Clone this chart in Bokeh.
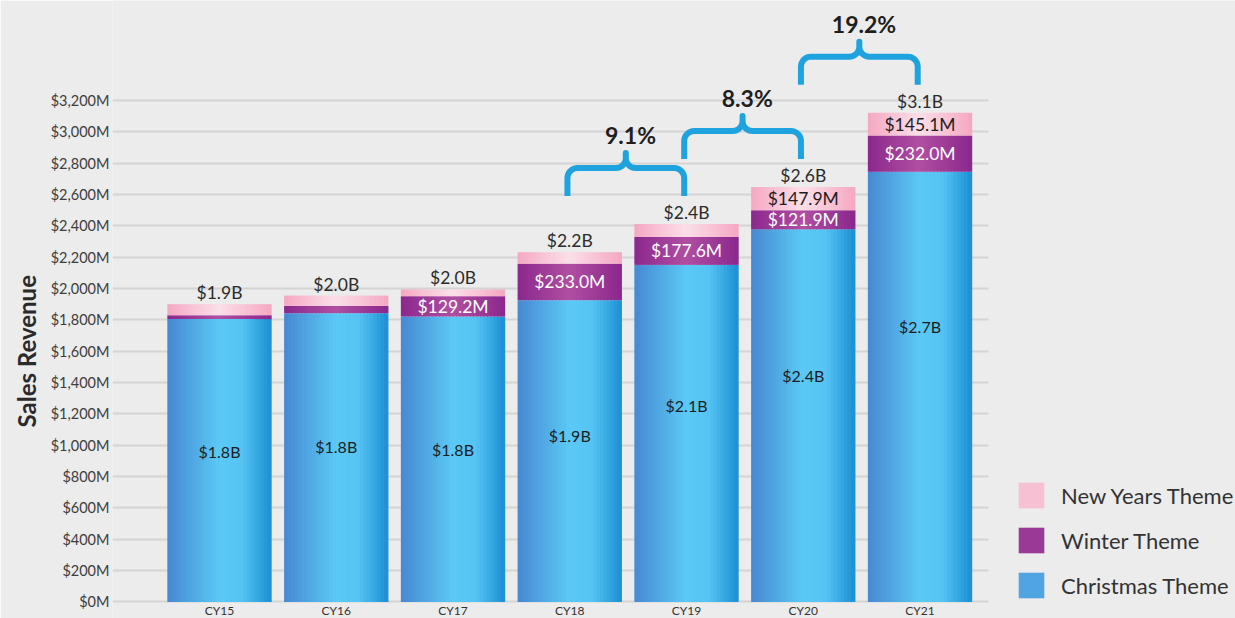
import math
from bokeh.plotting import figure
from bokeh.models import Range1d, FixedTicker, Legend, LegendItem, Title, ColumnDataSource
from bokeh.core.properties import value
from bokeh.embed import file_html
from bokeh.resources import INLINE

# ---------------- data ----------------
categories = ["CY15", "CY16", "CY17", "CY18", "CY19", "CY20", "CY21"]
christmas = [1805, 1843, 1822, 1926, 2151, 2378, 2745]
winter = [25, 46, 129.2, 233.0, 177.6, 121.9, 232.0]
new_years = [70, 66, 43, 72, 83, 147.9, 145.1]

christmas_labels = ["$1.8B", "$1.8B", "$1.8B", "$1.9B", "$2.1B", "$2.4B", "$2.7B"]
winter_labels = ["", "", "$129.2M", "$233.0M", "$177.6M", "$121.9M", "$232.0M"]
new_years_labels = ["", "", "", "", "", "$147.9M", "$145.1M"]
total_labels = ["$1.9B", "$2.0B", "$2.0B", "$2.2B", "$2.4B", "$2.6B", "$3.1B"]

growth_from = ["CY18", "CY19", "CY20"]
growth_to = ["CY19", "CY20", "CY21"]
growth_labels = ["9.1%", "8.3%", "19.2%"]

y_ticks = [0, 200, 400, 600, 800, 1000, 1200, 1400, 1600, 1800, 2000, 2200, 2400, 2600, 2800, 3000, 3200]
y_tick_labels = ["$0M", "$200M", "$400M", "$600M", "$800M", "$1,000M", "$1,200M", "$1,400M",
                 "$1,600M", "$1,800M", "$2,000M", "$2,200M", "$2,400M", "$2,600M", "$2,800M",
                 "$3,000M", "$3,200M"]

series_names = ["New Years Theme", "Winter Theme", "Christmas Theme"]

# ---------------- layout / style constants ----------------
FONT = "Lato"
W, H = 1235, 618
LEFT = 112
X0, X1 = -0.9165, 8.702
Y0, Y1 = -105.3, 3838
PX_X = (W - LEFT) / (X1 - X0)   # px per x unit
PX_Y = H / (Y1 - Y0)            # px per M
GRID_END = 6.59
BAR_W = 0.885
N_STRIPS = 30

BLUE_STOPS = [(0.0, "#4788d2"), (0.5, "#5bc9f5"), (0.72, "#56c4f3"), (1.0, "#1b90d3")]
PURPLE_STOPS = [(0.0, "#8b288d"), (0.5, "#b04fa2"), (1.0, "#8b288d")]
PINK_STOPS = [(0.0, "#f5a8c3"), (0.5, "#fbdfe9"), (1.0, "#f5a8c3")]
TEXT = "#2b2b2b"


def hex2rgb(h):
    return tuple(int(h[i:i + 2], 16) for i in (1, 3, 5))


def grad(stops, t):
    for (t0, c0), (t1, c1) in zip(stops[:-1], stops[1:]):
        if t0 <= t <= t1:
            f = (t - t0) / (t1 - t0)
            a, b = hex2rgb(c0), hex2rgb(c1)
            return "#%02x%02x%02x" % tuple(round(a[i] + (b[i] - a[i]) * f) for i in range(3))
    return stops[-1][1]


xs = list(range(len(categories)))
totals = [c + w + n for c, w, n in zip(christmas, winter, new_years)]

p = figure(width=W, height=H, x_range=Range1d(X0, X1), y_range=Range1d(Y0, Y1),
           output_backend="svg", toolbar_location=None, x_axis_location=None,
           min_border_left=LEFT, min_border_right=0, min_border_top=0, min_border_bottom=0,
           background_fill_color="#ececec", border_fill_color="#ececec",
           outline_line_color=None)

# y axis
ax = p.yaxis[0]
ax.ticker = FixedTicker(ticks=y_ticks)
ax.major_label_overrides = {t: l for t, l in zip(y_ticks, y_tick_labels)}
ax.axis_line_color = None
ax.major_tick_line_color = None
ax.major_tick_in = 0
ax.major_tick_out = 0
ax.minor_tick_line_color = None
ax.major_label_standoff = 3
ax.major_label_text_font = FONT
ax.major_label_text_font_size = "14.5px"
ax.major_label_text_color = "#3d3d3d"

p.ygrid.ticker = FixedTicker(ticks=y_ticks)
p.ygrid.grid_line_color = "#d4d4d4"
p.ygrid.grid_line_width = 2
p.ygrid.cross_bounds = (X0, GRID_END)
p.xgrid.grid_line_color = None

# bars, drawn as stacked segments with a horizontal shading (thin strips)
sw = BAR_W / N_STRIPS
bottoms_ch = [0] * len(xs)
bottoms_wi = christmas
bottoms_ny = [c + w for c, w in zip(christmas, winter)]
renderers = []
for vals, bots, stops in [(christmas, bottoms_ch, BLUE_STOPS),
                          (winter, bottoms_wi, PURPLE_STOPS),
                          (new_years, bottoms_ny, PINK_STOPS)]:
    sx, sb, st, sc = [], [], [], []
    for i, (v, b) in enumerate(zip(vals, bots)):
        for k in range(N_STRIPS):
            t = (k + 0.5) / N_STRIPS
            sx.append(xs[i] - BAR_W / 2 + (k + 0.5) * sw)
            sb.append(b)
            st.append(b + v)
            sc.append(grad(stops, t))
    r = p.vbar(x="x", bottom="bottom", top="top", width=sw * 1.3, fill_color="color",
               line_color=None, source=ColumnDataSource(dict(x=sx, bottom=sb, top=st, color=sc)))
    renderers.append(r)
r_ch, r_wi, r_ny = renderers

# segment labels
lab = ColumnDataSource(dict(
    x=xs,
    ch_y=[0.85 * c - 576 for c in christmas],
    wi_y=[c + w / 2 for c, w in zip(christmas, winter)],
    ny_y=[c + w + n / 2 for c, w, n in zip(christmas, winter, new_years)],
    tot_y=totals,
    ch_t=christmas_labels, wi_t=winter_labels, ny_t=new_years_labels, tot_t=total_labels,
))
common = dict(text_font=value(FONT), text_align="center", source=lab)
p.text(x="x", y="ch_y", text="ch_t", text_baseline="middle", text_color="#1e1e1e",
       text_font_size="16px", **common)
p.text(x="x", y="wi_y", text="wi_t", text_baseline="middle", text_color="#ffffff",
       text_font_size="17.5px", **common)
p.text(x="x", y="ny_y", text="ny_t", text_baseline="middle", text_color="#1e1e1e",
       text_font_size="17.5px", **common)
p.text(x="x", y="tot_y", text="tot_t", text_baseline="bottom", y_offset=-1, text_color=TEXT,
       text_font_size="17.5px", **common)

# category labels
p.text(x=xs, y=[0] * len(xs), text=categories, text_font=value(FONT), text_font_size="12px",
       text_align="center", text_baseline="middle", y_offset=9, text_color="#333333")


# braces
def brace(xa, xb, y0):
    r = 10.0
    side = 18.0
    hy = side + r
    half = (xb - xa) * PX_X / 2.0
    pts = [(0.0, 0.0), (0.0, side)]
    for k in range(1, 9):
        th = math.pi - (math.pi / 2) * k / 8
        pts.append((r + r * math.cos(th), side + r * math.sin(th)))
    for k in range(0, 9):
        th = -math.pi / 2 + (math.pi / 2) * k / 8
        pts.append((half - r + r * math.cos(th), hy + r + r * math.sin(th)))
    pts.append((half, hy + r + 5))
    right = [(2 * half - px, py) for px, py in reversed(pts)]
    allp = pts + right
    return [xa + px / PX_X for px, py in allp], [y0 + py / PX_Y for px, py in allp]


bxs, bys, tx, ty = [], [], [], []
for a, b in zip(growth_from, growth_to):
    ia, ib = categories.index(a), categories.index(b)
    y0 = totals[ib] + 28 / PX_Y
    bx, by = brace(xs[ia] - 0.02, xs[ib] - 0.02, y0)
    bxs.append(bx)
    bys.append(by)
    tx.append((xs[ia] + xs[ib]) / 2 + 0.02)
    ty.append(y0 + 47 / PX_Y)

p.multi_line(xs=bxs, ys=bys, line_color="#1ea3df", line_width=6, line_join="round")
p.text(x=tx, y=ty, text=growth_labels, text_font=value(FONT), text_font_size="23px",
       text_font_style="bold", text_align="center", text_baseline="bottom", text_color="#1e1e1e")

# y axis title
p.add_layout(Title(text="Sales Revenue", align="left", offset=191, text_font=FONT,
                   text_font_size="24px", text_font_style="bold", text_color="#2a2a2a",
                   standoff=14), "left")

# legend
legend = Legend(items=[LegendItem(label=series_names[0], renderers=[r_ny], index=N_STRIPS // 5),
                       LegendItem(label=series_names[1], renderers=[r_wi], index=N_STRIPS // 5),
                       LegendItem(label=series_names[2], renderers=[r_ch], index=N_STRIPS // 5)],
                location=(903, 17), padding=0, margin=0, spacing=13,
                glyph_width=32, glyph_height=32, label_height=32, label_standoff=14,
                label_text_font=FONT, label_text_font_size="22px", label_text_color="#333333",
                border_line_color=None, background_fill_color=None)
p.add_layout(legend)

open("out.html", "w").write(file_html(p, INLINE))
